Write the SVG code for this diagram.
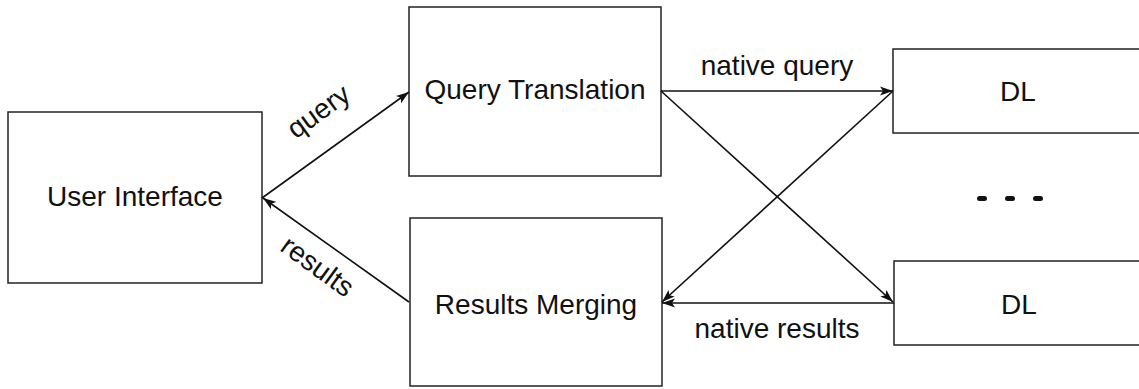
<svg xmlns="http://www.w3.org/2000/svg" width="1139" height="389" viewBox="0 0 1139 389">
  <defs>
    <marker id="arrow" markerUnits="userSpaceOnUse" markerWidth="14" markerHeight="10" refX="13" refY="5" orient="auto">
      <path d="M0,0.5 L13,5 L0,9.5 L3,5 Z" fill="#111"/>
    </marker>
    <style>
      .box { fill: #fff; stroke: #222; stroke-width: 1.5; }
      .lbl { font-family: "Liberation Sans", Arial, sans-serif; font-size: 28px; fill: #111; text-anchor: middle; }
      .edge { stroke: #111; stroke-width: 1.6; fill: none; marker-end: url(#arrow); }
      .dot { fill: #111; }
    </style>
  </defs>
  <rect width="1139" height="389" fill="#fff"/>

  <g id="user-interface">
    <rect class="box" x="8" y="112" width="254" height="171"/>
    <text class="lbl" x="135" y="206">User Interface</text>
  </g>
  <g id="query-translation">
    <rect class="box" x="409" y="7" width="252" height="169"/>
    <text class="lbl" x="535" y="99">Query Translation</text>
  </g>
  <g id="results-merging">
    <rect class="box" x="410" y="218" width="252" height="168"/>
    <text class="lbl" x="536" y="314">Results Merging</text>
  </g>
  <g id="dl-1">
    <rect class="box" x="893" y="49" width="260" height="84"/>
    <text class="lbl" x="1018" y="101">DL</text>
  </g>
  <g id="dl-n">
    <rect class="box" x="894" y="261" width="260" height="84"/>
    <text class="lbl" x="1019" y="314">DL</text>
  </g>
  <g id="ellipsis">
    <rect class="dot" x="977" y="196" width="10" height="5" rx="2.5"/>
    <rect class="dot" x="1005" y="196" width="10" height="5" rx="2.5"/>
    <rect class="dot" x="1033" y="196" width="10" height="5" rx="2.5"/>
  </g>

  <g id="connectors">
    <line class="edge" x1="262" y1="198" x2="409" y2="92"/>
    <line class="edge" x1="409" y1="302" x2="263" y2="198"/>
    <line class="edge" x1="661" y1="91" x2="893" y2="91"/>
    <line class="edge" x1="661" y1="91" x2="893" y2="302"/>
    <line class="edge" x1="893" y1="91" x2="662" y2="302"/>
    <line class="edge" x1="894" y1="303" x2="662" y2="303"/>
    <text class="lbl" transform="translate(324,119) rotate(-36)">query</text>
    <text class="lbl" transform="translate(312,274) rotate(36)">results</text>
    <text class="lbl" x="777" y="75">native query</text>
    <text class="lbl" x="777" y="338">native results</text>
  </g>
</svg>
